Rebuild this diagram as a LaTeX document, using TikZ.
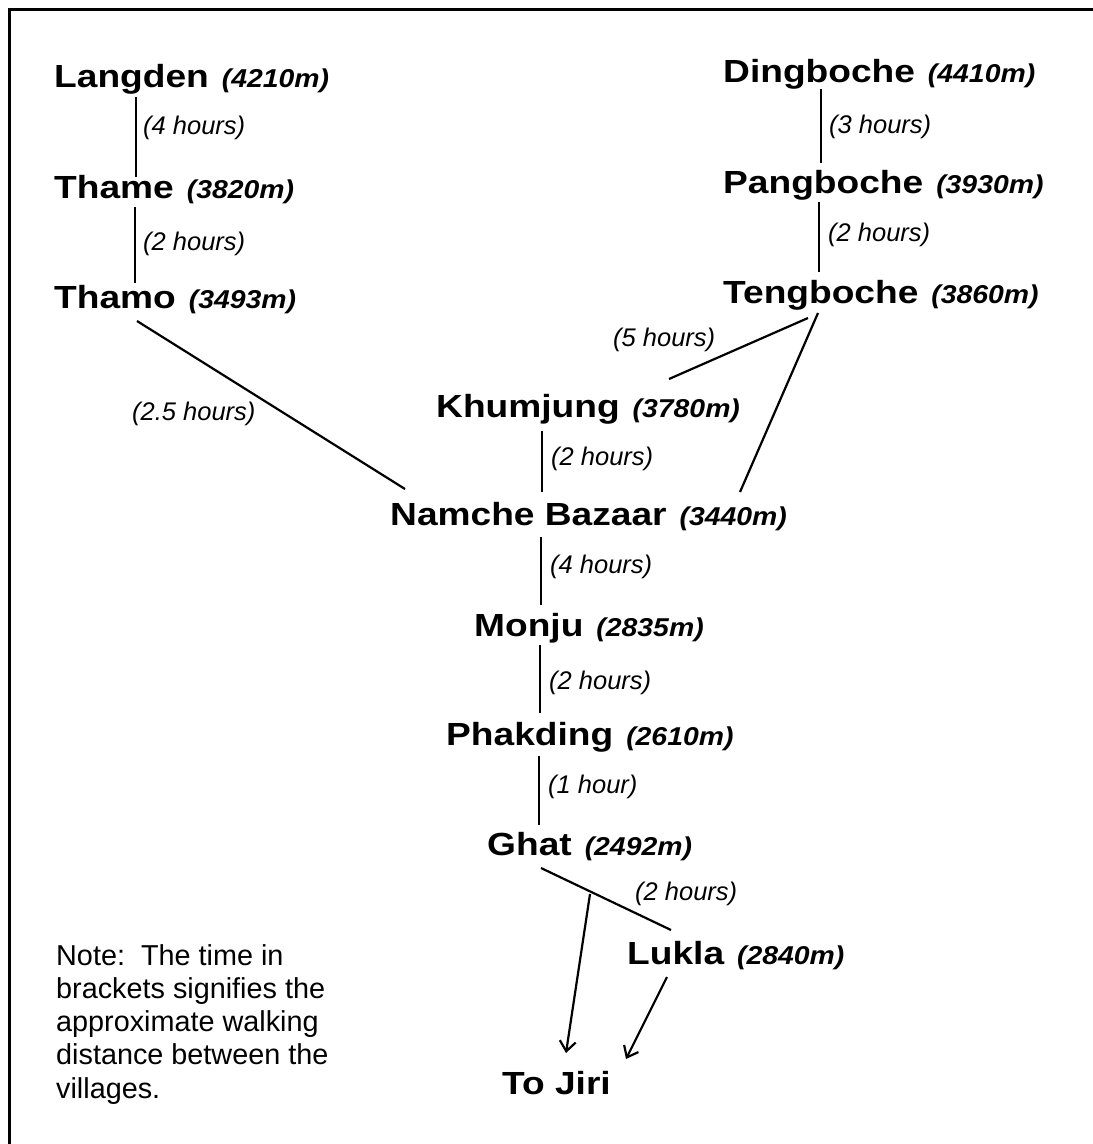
\documentclass[tikz,border=0pt]{standalone}
\usepackage{fontspec}
\setmainfont{Liberation Sans}
\newfontfamily\namefont{Liberation Sans}[FakeStretch=1.16]
\newfontfamily\altfont{Liberation Sans}[FakeStretch=1.1]
\usetikzlibrary{arrows.meta}
\newcommand{\village}[2]{{\namefont\bfseries\fontsize{32}{38}\selectfont #1}\hspace{13pt}{\altfont\bfseries\itshape\fontsize{25.8}{30}\selectfont #2}}
\begin{document}
\begin{tikzpicture}[x=1pt,y=-1pt,
  vil/.style={anchor=base west,inner sep=0pt},
  hrs/.style={anchor=west,inner sep=0pt,font=\itshape\fontsize{25.5}{30}\selectfont},
  trail/.style={line width=2.2pt},
  arrowline/.style={trail,-{Straight Barb[length=10pt,width=16pt]}},
  notetext/.style={anchor=north west,inner sep=0pt,align=left,font=\fontsize{28.8}{33.3}\selectfont}]
\useasboundingbox (0,0) rectangle (1093,1144);
\fill[white] (0,0) rectangle (1093,1144);
% frame
\draw[line width=3pt] (9.5,1144) -- (9.5,9.5) -- (1093,9.5);

% villages
\node[vil] (langden)   at (54,87)   {\village{Langden}{(4210m)}};
\node[vil] (thame)     at (54,198)  {\village{Thame}{(3820m)}};
\node[vil] (thamo)     at (54,308)  {\village{Thamo}{(3493m)}};
\node[vil] (dingboche) at (723,82)  {\village{Dingboche}{(4410m)}};
\node[vil] (pangboche) at (723,193) {\village{Pangboche}{(3930m)}};
\node[vil] (tengboche) at (723,303) {\village{Tengboche}{(3860m)}};
\node[vil] (khumjung)  at (436,417) {\village{Khumjung}{(3780m)}};
\node[vil] (namche)    at (390,525) {\village{Namche Bazaar}{(3440m)}};
\node[vil] (monju)     at (474,636) {\village{Monju}{(2835m)}};
\node[vil] (phakding)  at (446,745) {\village{Phakding}{(2610m)}};
\node[vil] (ghat)      at (487,855) {\village{Ghat}{(2492m)}};
\node[vil] (lukla)     at (627,964) {\village{Lukla}{(2840m)}};
\node[vil] (jiri)      at (502,1094) {\namefont\bfseries\fontsize{32}{38}\selectfont To Jiri};

% time labels
\node[hrs] (h1)  at (143,128) {(4 hours)};
\node[hrs] (h2)  at (143,244) {(2 hours)};
\node[hrs] (h3)  at (829,127) {(3 hours)};
\node[hrs] (h4)  at (828,235) {(2 hours)};
\node[hrs] (h5)  at (613,340) {(5 hours)};
\node[hrs] (h6)  at (132,414) {(2.5 hours)};
\node[hrs] (h7)  at (551,459) {(2 hours)};
\node[hrs] (h8)  at (550,567) {(4 hours)};
\node[hrs] (h9)  at (549,683) {(2 hours)};
\node[hrs] (h10) at (548,787) {(1 hour)};
\node[hrs] (h11) at (635,894) {(2 hours)};

% note
\node[notetext] (note) at (56,944) {Note:\ \ The time in\\brackets signifies the\\approximate walking\\distance between the\\villages.};

% connector end points
\coordinate (la1) at (136,97);  \coordinate (th1) at (136,177);
\coordinate (th2) at (135,207); \coordinate (to1) at (135,283);
\coordinate (di1) at (821,89);  \coordinate (pa1) at (821,163);
\coordinate (pa2) at (819,202); \coordinate (te1) at (819,272);
\coordinate (to2) at (137,321); \coordinate (na1) at (405,489);
\coordinate (te2) at (808,318); \coordinate (kh1) at (669,379);
\coordinate (te3) at (818,313); \coordinate (na2) at (740,492);
\coordinate (kh2) at (542,431); \coordinate (na3) at (542,492);
\coordinate (na4) at (541,537); \coordinate (mo1) at (541,605);
\coordinate (mo2) at (540,645); \coordinate (ph1) at (540,713);
\coordinate (ph2) at (539,756); \coordinate (gh1) at (539,825);
\coordinate (gh2) at (541,868); \coordinate (lu1) at (671,930);
\coordinate (fork) at (590,894); \coordinate (ji1) at (566,1053);
\coordinate (lu2) at (667,977); \coordinate (ji2) at (626,1059);

\draw[trail] (la1) -- (th1);
\draw[trail] (th2) -- (to1);
\draw[trail] (di1) -- (pa1);
\draw[trail] (pa2) -- (te1);
\draw[trail] (to2) -- (na1);
\draw[trail] (te2) -- (kh1);
\draw[trail] (te3) -- (na2);
\draw[trail] (kh2) -- (na3);
\draw[trail] (na4) -- (mo1);
\draw[trail] (mo2) -- (ph1);
\draw[trail] (ph2) -- (gh1);
\draw[trail] (gh2) -- (lu1);
\draw[arrowline] (fork) -- (ji1);
\draw[arrowline] (lu2) -- (ji2);
\end{tikzpicture}
\end{document}
